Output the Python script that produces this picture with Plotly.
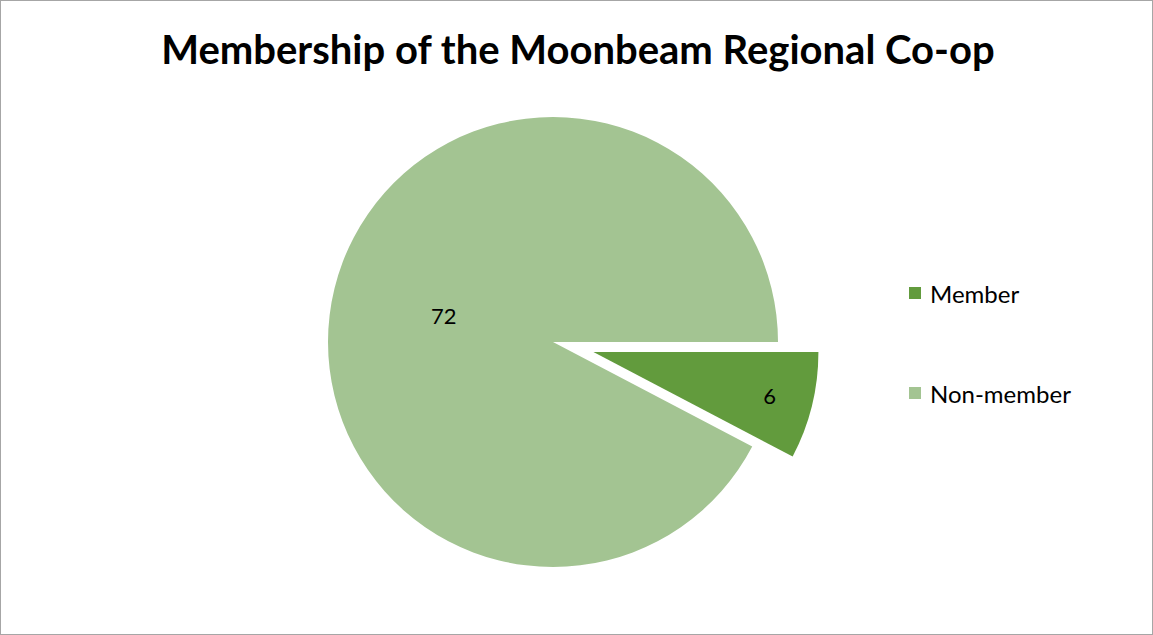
import plotly.graph_objects as go

# Membership counts
labels = ["Member", "Non-member"]
values = [6, 72]
colors = ["#629B3D", "#A3C492"]
pulls = [0.185, 0]

W, H = 1153, 635

# Pie sized so its radius stays ~225px with the pulled slice fitted in the domain
half = 225 * (1 + max(pulls))
cx, cy = 553, 342

fig = go.Figure()
fig.add_trace(go.Pie(
    labels=labels,
    values=values,
    sort=False,
    direction="clockwise",
    rotation=90,
    pull=pulls,
    marker=dict(colors=colors, line=dict(width=0)),
    textinfo="value",
    textposition="inside",
    insidetextorientation="horizontal",
    textfont=dict(family="Lato", size=22, color="black"),
    domain=dict(x=[(cx - half) / W, (cx + half) / W],
                y=[1 - (cy + half) / H, 1 - (cy - half) / H]),
    showlegend=False,
    hoverinfo="label+value",
))

# Legend drawn as swatches and labels
shapes = [dict(type="rect", xref="paper", yref="paper", x0=0, y0=0, x1=1, y1=1,
               line=dict(color="#A6A6A6", width=2), fillcolor="rgba(0,0,0,0)")]
annotations = []
legend_y = [293, 393]
for lab, col, ly in zip(labels, colors, legend_y):
    shapes.append(dict(type="rect", xref="paper", yref="paper",
                       x0=909 / W, x1=921 / W, y0=1 - (ly + 6) / H, y1=1 - (ly - 6) / H,
                       fillcolor=col, line=dict(width=0)))
    annotations.append(dict(text=lab, xref="paper", yref="paper", x=928 / W, y=1 - ly / H,
                            xanchor="left", yanchor="middle", showarrow=False,
                            font=dict(family="Lato", size=24, color="black")))

fig.update_layout(
    width=W, height=H,
    margin=dict(l=0, r=0, t=0, b=0),
    paper_bgcolor="white",
    plot_bgcolor="white",
    title=dict(text="<b>Membership of the Moonbeam Regional Co-op</b>",
               x=578 / W, xanchor="center", y=1 - 50 / H, yanchor="middle",
               font=dict(family="Lato", size=40, color="black")),
    shapes=shapes,
    annotations=annotations,
)

fig.write_html("out.html")
